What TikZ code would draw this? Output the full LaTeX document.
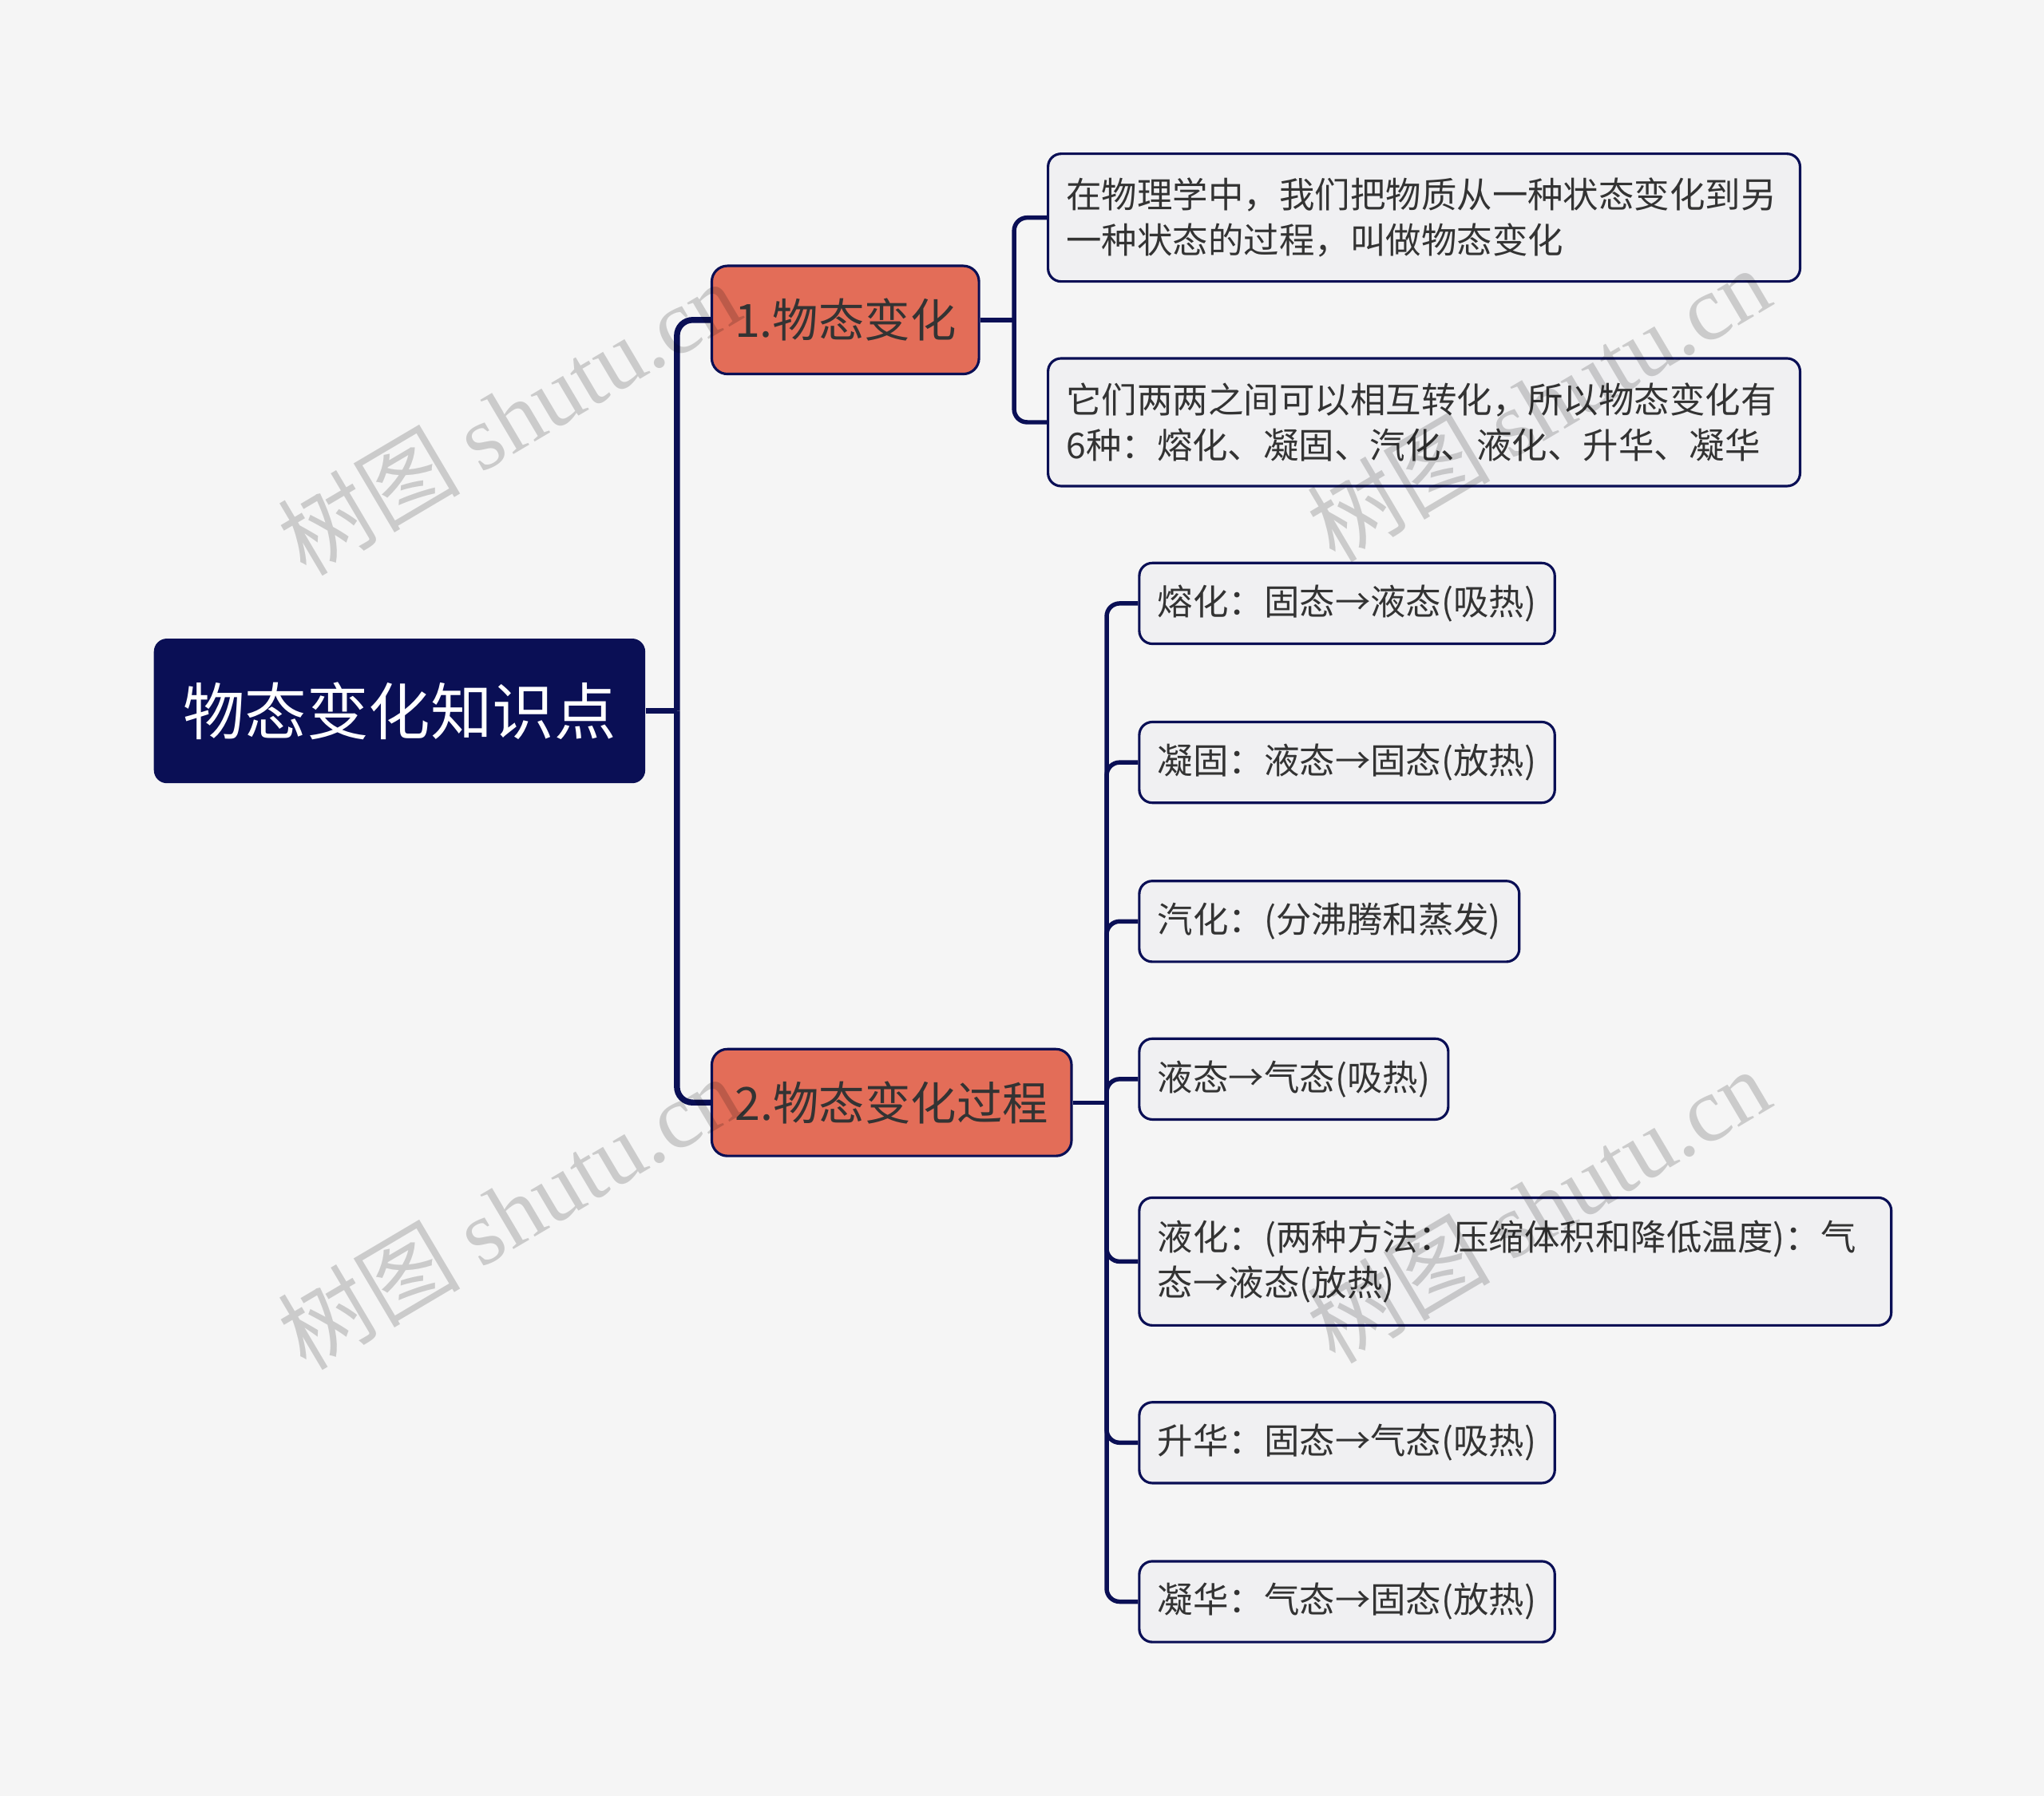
\documentclass[tikz,border=0pt]{standalone}
\usepackage{fontspec}
\setmainfont{Noto Sans CJK SC}
\newfontfamily\wmfont{Liberation Serif}
\definecolor{navy}{HTML}{0A0F55}
\definecolor{topicred}{HTML}{E36D58}
\definecolor{leafgray}{HTML}{F0F0F2}
\definecolor{bggray}{HTML}{F5F5F5}
\definecolor{inkgray}{HTML}{333333}
\tikzset{
  root/.style={fill=navy, text=white, rounded corners=0.2cm, inner sep=0pt,
    font=\fontsize{27}{30}\selectfont},
  topic/.style={fill=topicred, draw=navy, line width=1.1pt, rounded corners=0.24cm,
    text=inkgray, inner sep=0pt, font=\fontsize{20}{24}\selectfont},
  leaf/.style={fill=leafgray, draw=navy, line width=1.1pt, rounded corners=0.2cm,
    text=inkgray, anchor=west, inner xsep=0.28cm, inner ysep=0pt,
    minimum height=1.24cm, align=left, font=\fontsize{15.5}{19.9}\selectfont},
  wideleaf/.style={leaf, text width=10.98cm, minimum height=1.96cm},
  trunk/.style={draw=navy, line width=2.6pt, rounded corners=0.24cm},
  twig/.style={draw=navy, line width=1.9pt, rounded corners=0.2cm},
  wm/.style={text=black, opacity=0.17, rotate=30.6, font=\fontsize{40}{42}\selectfont}
}

\begin{document}
\begin{tikzpicture}[x=0.02cm, y=-0.02cm]
  \fill[bggray] (0,0) rectangle (1568,1378);
  % root and main branches
  \node[root, minimum width=7.54cm, minimum height=2.22cm] (root) at (306.5,545.5) {物态变化知识点};
  \node[topic, minimum width=4.1cm, minimum height=1.66cm] (t1) at (648.5,245.5) {1.物态变化};
  \node[topic, minimum width=5.52cm, minimum height=1.64cm] (t2) at (684,846) {2.物态变化过程};
  % leaves of branch 1
  \node[wideleaf] (a1) at (803,167)
    {在物理学中，我们把物质从一种状态变化到另\\一种状态的过程，叫做物态变化};
  \node[wideleaf] (a2) at (803,324)
    {它们两两之间可以相互转化，所以物态变化有\\6种：熔化、凝固、汽化、液化、升华、凝华};
  % leaves of branch 2
  \node[leaf] (b1) at (873,463) {熔化：固态→液态(吸热)};
  \node[leaf] (b2) at (873,585) {凝固：液态→固态(放热)};
  \node[leaf] (b3) at (873,707) {汽化：(分沸腾和蒸发)};
  \node[leaf] (b4) at (873,828) {液态→气态(吸热)};
  \node[wideleaf] (b5) at (873,968)
    {液化：(两种方法：压缩体积和降低温度)：气\\态→液态(放热)};
  \node[leaf] (b6) at (873,1107) {升华：固态→气态(吸热)};
  \node[leaf] (b7) at (873,1229) {凝华：气态→固态(放热)};
  % connectors
  \coordinate (j0) at ([xshift=0.48cm]root.east);
  \coordinate (j1) at ([xshift=0.52cm]t1.east);
  \coordinate (j2) at ([xshift=0.52cm]t2.east);
  \draw[trunk] (root.east) -- (j0);
  \foreach \t in {t1,t2}
    \draw[trunk] (j0) |- (\t.west);
  \draw[twig] (t1.east) -- (j1);
  \foreach \a in {a1,a2}
    \draw[twig] (j1) |- (\a.west);
  \draw[twig] (t2.east) -- (j2);
  \foreach \b in {b1,b2,b3,b4,b5,b6,b7}
    \draw[twig] (j2) |- (\b.west);
  % watermark
  \foreach \x/\y [count=\i] in {390/320, 390/930, 1180/310, 1180/925}
    \node[wm] (wm\i) at (\x,\y) {树图 {\wmfont shutu.cn}};
\end{tikzpicture}
\end{document}
